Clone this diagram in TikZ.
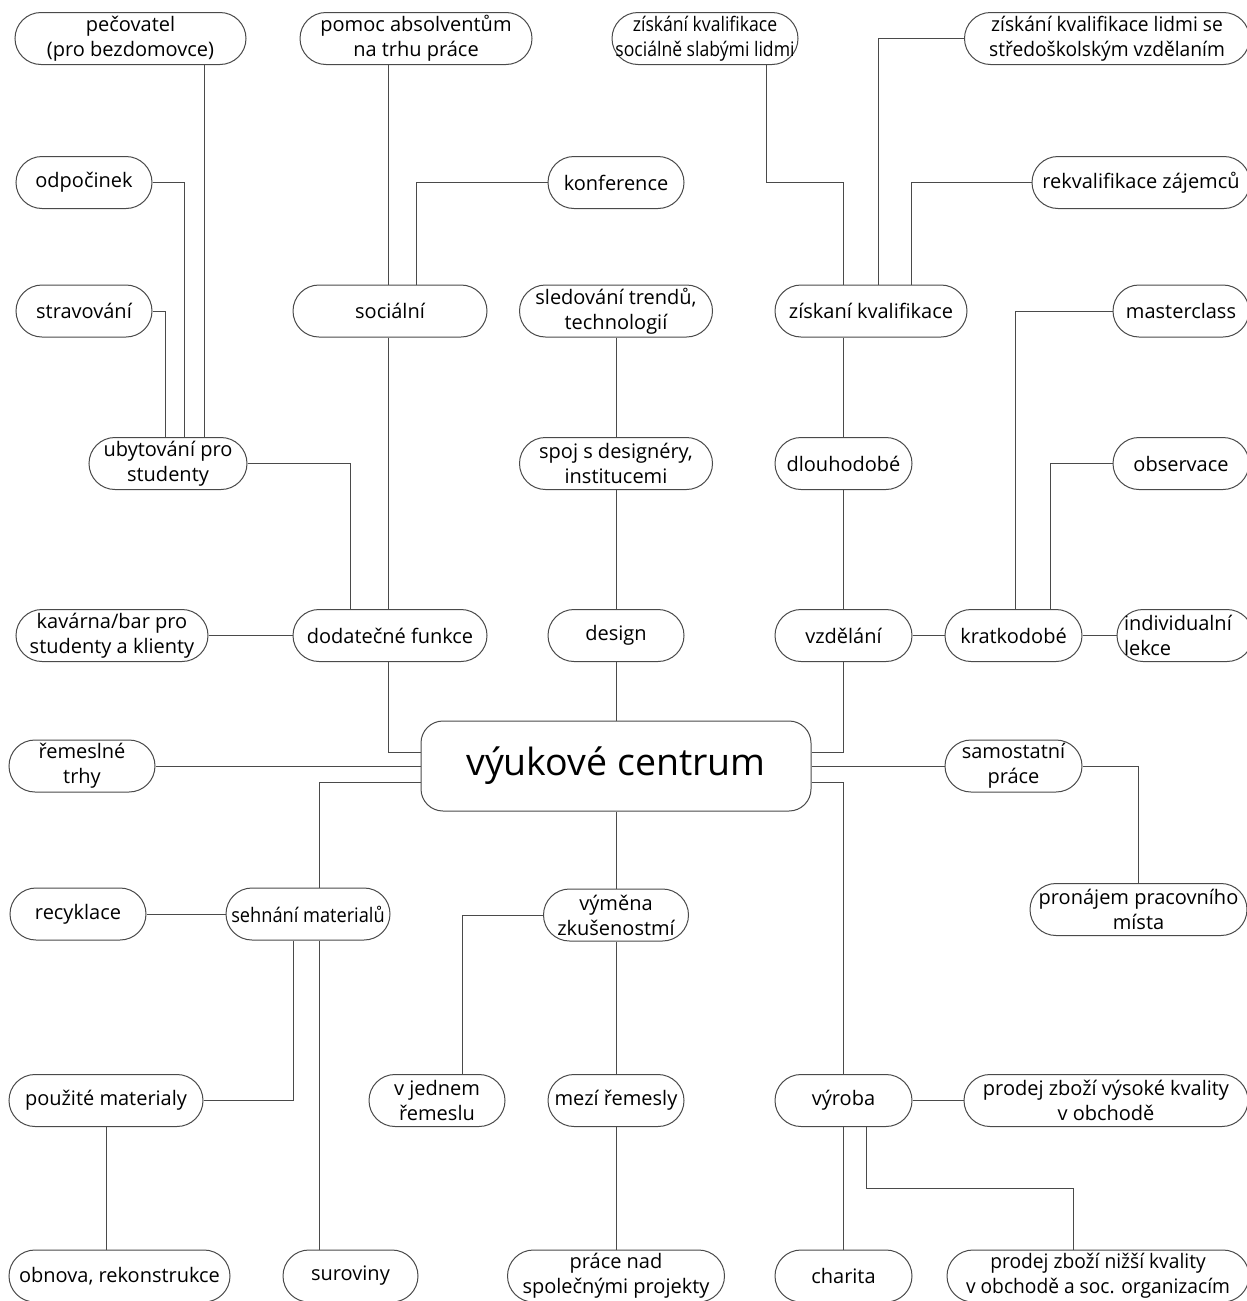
\documentclass[tikz,border=0pt]{standalone}
\usepackage{graphicx}
\usepackage{fontspec}
\setmainfont{Open Sans}
\definecolor{lc}{HTML}{4A4A4A}
\newcommand{\lblfont}{\fontsize{20}{25}\selectfont}
\newcommand{\cenfont}{\fontsize{37.5}{40}\selectfont}
\newcommand{\sq}[2]{\scalebox{#1}[1]{#2}}
\tikzset{
  pill/.style={draw=lc, line width=1pt, rounded corners=26pt, minimum height=52pt,
    inner sep=0pt, align=center, font=\lblfont, text=black},
  conn/.style={draw=lc, line width=1pt},
}
\begin{document}
\begin{tikzpicture}[x=1pt,y=-1pt]
\useasboundingbox (0,0) rectangle (1247,1301);
\clip (0,0) rectangle (1247,1301);
\fill[white] (0,0) rectangle (1247,1301);
% row 1
\node[pill, minimum width=231pt] (pec) at (130.5,38.5) {pečovatel\\(pro bezdomovce)};
\node[pill, minimum width=232pt] (pom) at (416,38.5) {pomoc absolventům\\na trhu práce};
\node[pill, minimum width=186pt] (zsoc) at (705,38.5) {\sq{0.88}{získání kvalifikace}\\\sq{0.88}{sociálně slabými lidmi}};
\node[pill, minimum width=285pt] (zstr) at (1107,38.5) {\sq{0.96}{získání kvalifikace lidmi se}\\\sq{0.96}{středoškolským vzdělaním}};
% row 2
\node[pill, minimum width=136pt] (odp) at (84,182.5) {odpočinek};
\node[pill, minimum width=136pt] (konf) at (616,182.5) {konference};
\node[pill, minimum width=218pt] (rekv) at (1141,182.5) {rekvalifikace zájemců};
% row 3
\node[pill, minimum width=136pt] (strav) at (84,311) {stravování};
\node[pill, minimum width=194pt] (soc) at (390,311) {sociální};
\node[pill, minimum width=193pt] (sled) at (616,311) {sledování trendů,\\technologií};
\node[pill, minimum width=192pt] (zkv) at (871,311) {získaní kvalifikace};
\node[pill, minimum width=136pt] (mast) at (1181,311) {masterclass};
% row 4
\node[pill, minimum width=158pt] (ubyt) at (168,463.5) {ubytování pro\\studenty};
\node[pill, minimum width=193pt] (spoj) at (616,463.5) {spoj s designéry,\\institucemi};
\node[pill, minimum width=137pt] (dlouh) at (843.5,463.5) {dlouhodobé};
\node[pill, minimum width=136pt] (obs) at (1181,463.5) {observace};
% row 5
\node[pill, minimum width=192pt] (kav) at (112,635.5) {kavárna/bar pro\\studenty a klienty};
\node[pill, minimum width=194pt] (dod) at (390,635.5) {dodatečné funkce};
\node[pill, minimum width=136pt] (des) at (616,635.5) {design};
\node[pill, minimum width=137pt] (vzd) at (843.5,635.5) {vzdělání};
\node[pill, minimum width=137pt] (krat) at (1013.5,635.5) {kratkodobé};
\node[pill, minimum width=136pt, text width=122pt, align=left] (ind) at (1185,635.5) {individualní\\lekce};
% center row
\node[draw=lc, line width=1pt, rounded corners=22pt, minimum width=390pt, minimum height=90pt,
  inner sep=0pt, font=\cenfont] (cen) at (616,766) {výukové centrum};
\node[pill, minimum width=146pt] (rem) at (82,766) {řemeslné\\trhy};
\node[pill, minimum width=137pt] (sam) at (1013.5,766) {samostatní\\práce};
% row 7
\node[pill, minimum width=136pt] (rec) at (78,914) {recyklace};
\node[pill, minimum width=164pt] (seh) at (308,914) {\sq{0.91}{sehnání materialů}};
\node[pill, minimum width=145pt] (vym) at (616,915) {výměna\\zkušenostmí};
\node[pill, minimum width=217pt] (pron) at (1138.5,909.5) {pronájem pracovního\\místa};
% row 8
\node[pill, minimum width=194pt] (pouz) at (106,1100.5) {použité materialy};
\node[pill, minimum width=136pt] (vjed) at (437,1100.5) {v jednem\\řemeslu};
\node[pill, minimum width=136pt] (mezi) at (616,1100.5) {mezí řemesly};
\node[pill, minimum width=137pt] (vyr) at (843.5,1100.5) {výroba};
\node[pill, minimum width=284pt] (pvys) at (1106,1100.5) {prodej zboží výsoké kvality\\v obchodě};
% row 9
\node[pill, minimum width=221pt] (obn) at (119.5,1276) {obnova, rekonstrukce};
\node[pill, minimum width=135pt] (sur) at (350.5,1276) {suroviny};
\node[pill, minimum width=217pt] (prac) at (616,1276) {práce nad\\společnými projekty};
\node[pill, minimum width=137pt] (char) at (843.5,1276) {charita};
\node[pill, minimum width=302pt] (pniz) at (1098,1276) {\sq{0.96}{prodej zboží nižší kvality}\\\sq{0.96}{v obchodě a soc. organizacím}};

% connectors
\draw[conn] ([xshift=73.5pt]pec.south) -- ([xshift=36pt]ubyt.north);
\draw[conn] (odp.east) -| ([xshift=16pt]ubyt.north);
\draw[conn] (strav.east) -| ([xshift=-3pt]ubyt.north);
\draw[conn] (ubyt.east) -| ([xshift=-40pt]dod.north);
\draw[conn] ([xshift=-28pt]pom.south) -- ([xshift=-2pt]soc.north);
\draw[conn] ([xshift=-2pt]soc.south) -- ([xshift=-2pt]dod.north);
\draw[conn] ([xshift=-2pt]dod.south) |- ([yshift=14pt]cen.west);
\draw[conn] (konf.west) -| ([xshift=26pt]soc.north);
\draw[conn] (sled.south) -- (spoj.north);
\draw[conn] (spoj.south) -- (des.north);
\draw[conn] (des.south) -- (cen.north);
\draw[conn] ([xshift=61pt]zsoc.south) -- ++(0,117.5) -| ([xshift=-27.5pt]zkv.north);
\draw[conn] (zstr.west) -| ([xshift=7pt]zkv.north);
\draw[conn] (rekv.west) -| ([xshift=40pt]zkv.north);
\draw[conn] ([xshift=-27.5pt]zkv.south) -- (dlouh.north);
\draw[conn] (dlouh.south) -- (vzd.north);
\draw[conn] (vzd.south) |- ([yshift=14pt]cen.east);
\draw[conn] (mast.west) -| ([xshift=1.5pt]krat.north);
\draw[conn] (obs.west) -| ([xshift=37pt]krat.north);
\draw[conn] (krat.west) -- (vzd.east);
\draw[conn] (ind.west) -- (krat.east);
\draw[conn] (kav.east) -- (dod.west);
\draw[conn] (rem.east) -- (cen.west);
\draw[conn] (sam.west) -- (cen.east);
\draw[conn] (sam.east) -| (pron.north);
\draw[conn] ([xshift=11pt]seh.north) |- ([yshift=-16pt]cen.west);
\draw[conn] (rec.east) -- (seh.west);
\draw[conn] (vym.north) -- (cen.south);
\draw[conn] ([xshift=25pt]vjed.north) |- (vym.west);
\draw[conn] (mezi.north) -- (vym.south);
\draw[conn] (prac.north) -- (mezi.south);
\draw[conn] (pouz.east) -| ([xshift=-15pt]seh.south);
\draw[conn] ([xshift=-31.5pt]sur.north) -- ([xshift=11pt]seh.south);
\draw[conn] ([xshift=-13.5pt]obn.north) -- (pouz.south);
\draw[conn] ([yshift=-16pt]cen.east) -| (vyr.north);
\draw[conn] (pvys.west) -- (vyr.east);
\draw[conn] (char.north) -- (vyr.south);
\draw[conn] ([xshift=23pt]vyr.south) -- ++(0,61) -| ([xshift=-25pt]pniz.north);
\end{tikzpicture}
\end{document}
